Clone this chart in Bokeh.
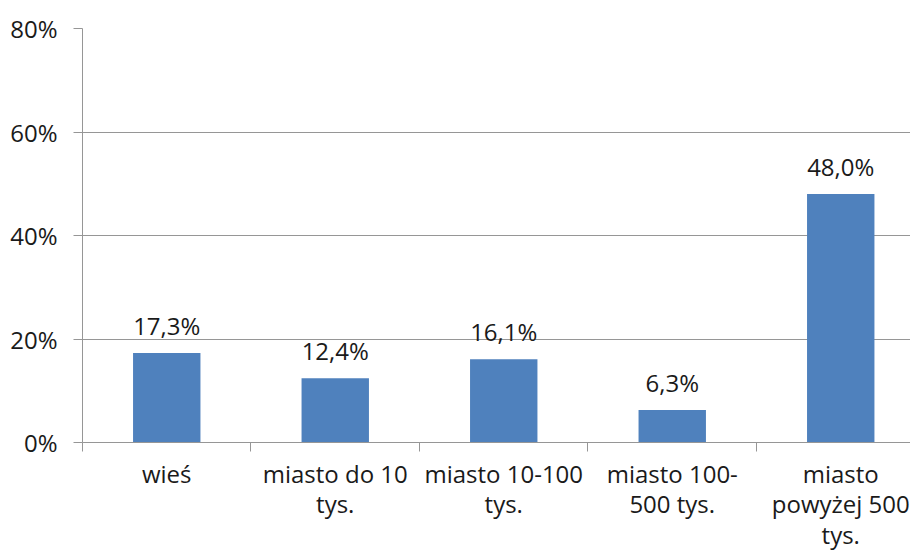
from bokeh.plotting import figure
from bokeh.models import ColumnDataSource, Range1d, FixedTicker, LabelSet
from bokeh.core.properties import value
from bokeh.embed import file_html
from bokeh.resources import INLINE

categories = ["wieś", "miasto do 10\ntys.", "miasto 10-100\ntys.", "miasto 100-\n500 tys.", "miasto\npowyżej 500\ntys."]
values = [0.173, 0.124, 0.161, 0.063, 0.480]
value_labels = ["17,3%", "12,4%", "16,1%", "6,3%", "48,0%"]
y_ticks = [0.0, 0.2, 0.4, 0.6, 0.8]
y_tick_labels = ["0%", "20%", "40%", "60%", "80%"]

FONT = "Open Sans"
TEXT_COLOR = "#1a1a1a"
GRID = "#969696"

xs = [i + 0.5 for i in range(len(categories))]
src = ColumnDataSource(dict(x=xs, top=values, lab=value_labels))

p = figure(frame_width=828, frame_height=414, output_backend="svg", toolbar_location=None,
           x_range=Range1d(0, 4.914), y_range=Range1d(0, 0.8),
           min_border_left=82, min_border_right=0, min_border_top=28, min_border_bottom=0)
p.outline_line_color = None
p.background_fill_color = "white"
p.border_fill_color = "white"

p.vbar(x="x", top="top", bottom=0, width=0.4, source=src, fill_color="#4F81BD", line_color=None)

labels = LabelSet(x="x", y="top", text="lab", source=src, text_align="center",
                  text_baseline="alphabetic", y_offset=18, text_font=value(FONT),
                  text_font_size="24px", text_color=TEXT_COLOR)
p.add_layout(labels)

# y axis
p.yaxis.ticker = FixedTicker(ticks=y_ticks)
p.yaxis.major_label_overrides = {t: l for t, l in zip(y_ticks, y_tick_labels)}
p.yaxis.axis_line_color = GRID
p.yaxis.major_tick_line_color = GRID
p.yaxis.major_tick_out = 9
p.yaxis.major_tick_in = 0
p.yaxis.minor_tick_line_color = None
p.yaxis.major_label_text_font = FONT
p.yaxis.major_label_text_font_size = "24px"
p.yaxis.major_label_text_color = TEXT_COLOR
p.yaxis.major_label_standoff = 16

# x axis
p.xaxis.ticker = FixedTicker(ticks=xs, minor_ticks=[0, 1, 2, 3, 4, 5])
p.xaxis.major_label_overrides = {x: c for x, c in zip(xs, categories)}
p.xaxis.axis_line_color = GRID
p.xaxis.major_tick_line_color = None
p.xaxis.major_tick_out = 0
p.xaxis.major_tick_in = 0
p.xaxis.minor_tick_line_color = GRID
p.xaxis.minor_tick_out = 9
p.xaxis.minor_tick_in = 0
p.xaxis.major_label_text_font = FONT
p.xaxis.major_label_text_font_size = "24px"
p.xaxis.major_label_text_color = TEXT_COLOR
p.xaxis.major_label_text_line_height = 0.93
p.xaxis.major_label_standoff = 5
p.xaxis.major_label_orientation = "horizontal"

p.xgrid.grid_line_color = None
p.ygrid.grid_line_color = GRID
p.ygrid.grid_line_width = 1

open("out.html", "w").write(file_html(p, INLINE))
